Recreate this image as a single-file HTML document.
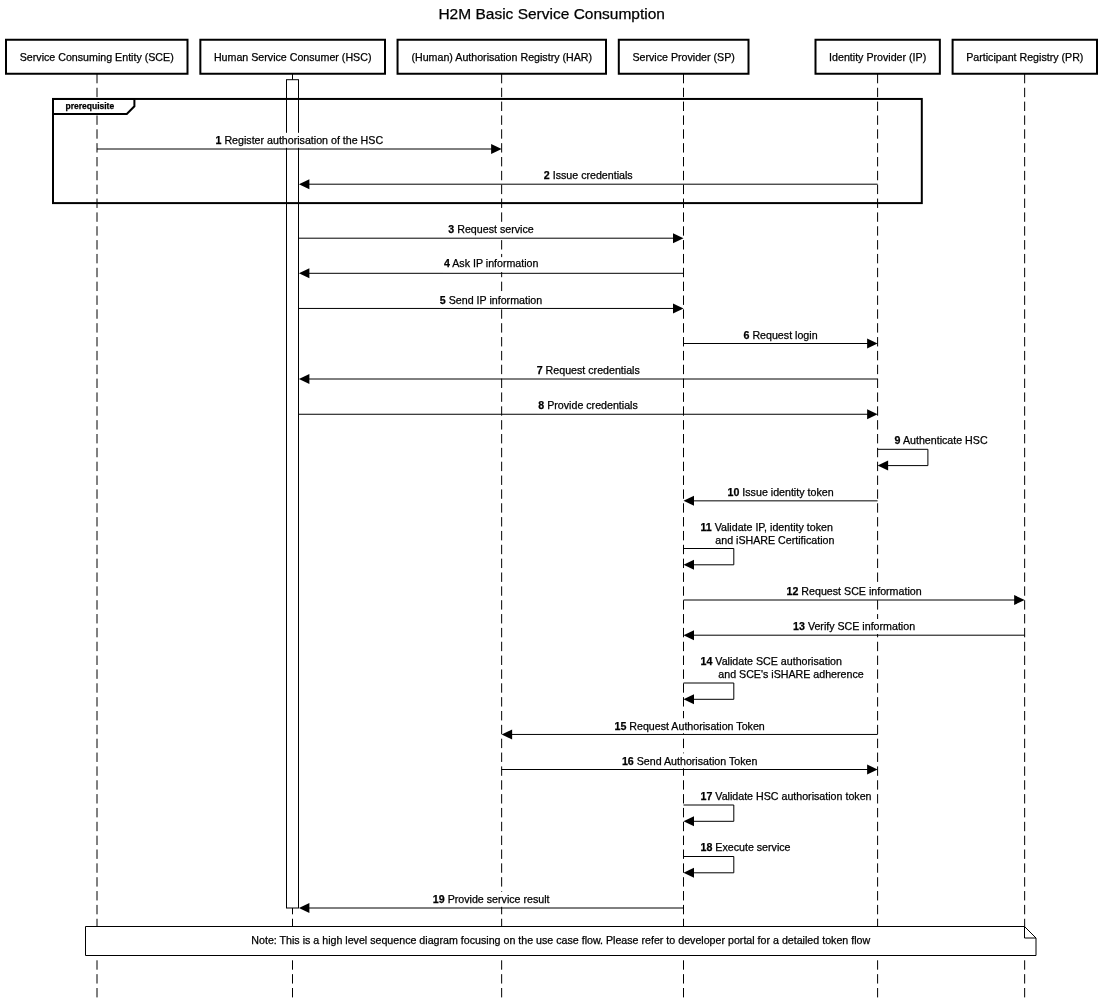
<!DOCTYPE html>
<html><head><meta charset="utf-8"><title>H2M Basic Service Consumption</title>
<style>html,body{margin:0;padding:0;background:#fff}svg{display:block;will-change:transform}text{font-family:"Liberation Sans",sans-serif;fill:#000;stroke:#000;stroke-width:0.25px}.b{font-weight:bold}</style>
</head><body>
<svg width="1103" height="999" viewBox="0 0 1103 999">
<rect x="0" y="0" width="1103" height="999" fill="#fff"></rect>
<text x="551.7" y="19.1" font-size="15.5" text-anchor="middle">H2M Basic Service Consumption</text>
<line x1="97.0" y1="73.9" x2="97.0" y2="1004" stroke="#000" stroke-width="1" stroke-dasharray="9.4 4.45"></line>
<line x1="292.5" y1="73.9" x2="292.5" y2="1004" stroke="#000" stroke-width="1" stroke-dasharray="9.4 4.45"></line>
<line x1="501.65" y1="73.9" x2="501.65" y2="1004" stroke="#000" stroke-width="1" stroke-dasharray="9.4 4.45"></line>
<line x1="683.5" y1="73.9" x2="683.5" y2="1004" stroke="#000" stroke-width="1" stroke-dasharray="9.4 4.45"></line>
<line x1="877.6" y1="73.9" x2="877.6" y2="1004" stroke="#000" stroke-width="1" stroke-dasharray="9.4 4.45"></line>
<line x1="1024.65" y1="73.9" x2="1024.65" y2="1004" stroke="#000" stroke-width="1" stroke-dasharray="9.4 4.45"></line>
<rect x="6.0" y="39.75" width="181.50" height="34.0" fill="#fff" stroke="#000" stroke-width="2"></rect>
<text x="96.75" y="60.6" font-size="10.67" text-anchor="middle">Service Consuming Entity (SCE)</text>
<rect x="200.35" y="39.75" width="184.65" height="34.0" fill="#fff" stroke="#000" stroke-width="2"></rect>
<text x="292.68" y="60.6" font-size="10.67" text-anchor="middle">Human Service Consumer (HSC)</text>
<rect x="397.55" y="39.75" width="208.45" height="34.0" fill="#fff" stroke="#000" stroke-width="2"></rect>
<text x="501.77" y="60.6" font-size="10.67" text-anchor="middle">(Human) Authorisation Registry (HAR)</text>
<rect x="618.8" y="39.75" width="129.70" height="34.0" fill="#fff" stroke="#000" stroke-width="2"></rect>
<text x="683.65" y="60.6" font-size="10.67" text-anchor="middle">Service Provider (SP)</text>
<rect x="815.5" y="39.75" width="124.35" height="34.0" fill="#fff" stroke="#000" stroke-width="2"></rect>
<text x="877.67" y="60.6" font-size="10.67" text-anchor="middle">Identity Provider (IP)</text>
<rect x="952.6" y="39.75" width="144.40" height="34.0" fill="#fff" stroke="#000" stroke-width="2"></rect>
<text x="1024.80" y="60.6" font-size="10.67" text-anchor="middle">Participant Registry (PR)</text>
<line x1="292.5" y1="73.75" x2="292.5" y2="79.7" stroke="#000" stroke-width="1"></line>
<rect x="286.5" y="79.7" width="12.0" height="828.30" fill="#fff" stroke="#000" stroke-width="1"></rect>
<rect x="53.0" y="98.95" width="868.80" height="104.15" fill="none" stroke="#000" stroke-width="2"></rect>
<path d="M53.0 98.95 H134.4 V106.3 L126.8 113.9 H53.0 Z" fill="#fff" stroke="#000" stroke-width="2" stroke-linejoin="miter"></path>
<text class="b" x="65.5" y="109" font-size="8.5">prerequisite</text>
<line x1="97.0" y1="149.0" x2="496.65" y2="149.0" stroke="#000" stroke-width="1"></line>
<path d="M501.65 149.0 L491.15 144.0 L491.15 154.0 Z" fill="#000"></path>
<g><rect x="214.50" y="132.80" width="169.94" height="15" fill="#fff"></rect><text x="299.32" y="144" font-size="10.67" text-anchor="middle" xml:space="preserve"><tspan class="b">1</tspan> Register authorisation of the HSC</text></g>
<line x1="877.6" y1="184.2" x2="303.90" y2="184.2" stroke="#000" stroke-width="1"></line>
<path d="M298.9 184.2 L309.40 179.2 L309.40 189.2 Z" fill="#000"></path>
<g><rect x="542.81" y="168.00" width="90.88" height="15" fill="#fff"></rect><text x="588.25" y="179" font-size="10.67" text-anchor="middle" xml:space="preserve"><tspan class="b">2</tspan> Issue credentials</text></g>
<line x1="298.5" y1="238.2" x2="678.50" y2="238.2" stroke="#000" stroke-width="1"></line>
<path d="M683.5 238.2 L673.00 233.2 L673.00 243.2 Z" fill="#000"></path>
<g><rect x="447.34" y="222.00" width="87.38" height="15" fill="#fff"></rect><text x="491.00" y="233" font-size="10.67" text-anchor="middle" xml:space="preserve"><tspan class="b">3</tspan> Request service</text></g>
<line x1="683.5" y1="273.3" x2="303.90" y2="273.3" stroke="#000" stroke-width="1"></line>
<path d="M298.9 273.3 L309.40 268.3 L309.40 278.3 Z" fill="#000"></path>
<g><rect x="442.90" y="257.10" width="96.66" height="15" fill="#fff"></rect><text x="491.20" y="267" font-size="10.67" text-anchor="middle" xml:space="preserve"><tspan class="b">4</tspan> Ask IP information</text></g>
<line x1="298.5" y1="308.45" x2="678.50" y2="308.45" stroke="#000" stroke-width="1"></line>
<path d="M683.5 308.45 L673.00 303.45 L673.00 313.45 Z" fill="#000"></path>
<g><rect x="438.85" y="292.25" width="104.37" height="15" fill="#fff"></rect><text x="491.00" y="304" font-size="10.67" text-anchor="middle" xml:space="preserve"><tspan class="b">5</tspan> Send IP information</text></g>
<line x1="683.5" y1="343.5" x2="872.60" y2="343.5" stroke="#000" stroke-width="1"></line>
<path d="M877.6 343.5 L867.10 338.5 L867.10 348.5 Z" fill="#000"></path>
<g><rect x="742.51" y="327.30" width="76.14" height="15" fill="#fff"></rect><text x="780.55" y="339" font-size="10.67" text-anchor="middle" xml:space="preserve"><tspan class="b">6</tspan> Request login</text></g>
<line x1="877.6" y1="379.0" x2="303.90" y2="379.0" stroke="#000" stroke-width="1"></line>
<path d="M298.9 379.0 L309.40 374.0 L309.40 384.0 Z" fill="#000"></path>
<g><rect x="535.70" y="362.80" width="105.09" height="15" fill="#fff"></rect><text x="588.25" y="374" font-size="10.67" text-anchor="middle" xml:space="preserve"><tspan class="b">7</tspan> Request credentials</text></g>
<line x1="298.5" y1="414.25" x2="872.60" y2="414.25" stroke="#000" stroke-width="1"></line>
<path d="M877.6 414.25 L867.10 409.25 L867.10 419.25 Z" fill="#000"></path>
<g><rect x="537.28" y="398.05" width="101.53" height="15" fill="#fff"></rect><text x="588.05" y="409" font-size="10.67" text-anchor="middle" xml:space="preserve"><tspan class="b">8</tspan> Provide credentials</text></g>
<path d="M877.6 449.3 H927.90 V465.60 H882.6" fill="none" stroke="#000" stroke-width="1"></path>
<path d="M877.6 465.6 L888.10 460.6 L888.10 470.6 Z" fill="#000"></path>
<text x="894.60" y="444" font-size="10.67" xml:space="preserve"><tspan class="b">9</tspan> Authenticate HSC</text>
<line x1="877.6" y1="500.85" x2="688.50" y2="500.85" stroke="#000" stroke-width="1"></line>
<path d="M683.5 500.85 L694.00 495.85 L694.00 505.85 Z" fill="#000"></path>
<g><rect x="726.53" y="484.65" width="108.12" height="15" fill="#fff"></rect><text x="780.55" y="496" font-size="10.67" text-anchor="middle" xml:space="preserve"><tspan class="b">10</tspan> Issue identity token</text></g>
<path d="M683.5 548.5 H733.80 V564.80 H688.5" fill="none" stroke="#000" stroke-width="1"></path>
<path d="M683.5 564.8 L694.00 559.8 L694.00 569.8 Z" fill="#000"></path>
<text x="700.50" y="531" font-size="10.67" xml:space="preserve"><tspan class="b">11</tspan> Validate IP, identity token</text>
<text x="715.34" y="544" font-size="10.67" xml:space="preserve">and iSHARE Certification</text>
<line x1="683.5" y1="600.0" x2="1019.65" y2="600.0" stroke="#000" stroke-width="1"></line>
<path d="M1024.65 600.0 L1014.15 595.0 L1014.15 605.0 Z" fill="#000"></path>
<g><rect x="785.55" y="583.80" width="137.13" height="15" fill="#fff"></rect><text x="854.08" y="595" font-size="10.67" text-anchor="middle" xml:space="preserve"><tspan class="b">12</tspan> Request SCE information</text></g>
<line x1="1024.65" y1="635.2" x2="688.50" y2="635.2" stroke="#000" stroke-width="1"></line>
<path d="M683.5 635.2 L694.00 630.2 L694.00 640.2 Z" fill="#000"></path>
<g><rect x="792.06" y="619.00" width="124.09" height="15" fill="#fff"></rect><text x="854.08" y="630" font-size="10.67" text-anchor="middle" xml:space="preserve"><tspan class="b">13</tspan> Verify SCE information</text></g>
<path d="M683.5 683.0 H733.80 V699.30 H688.5" fill="none" stroke="#000" stroke-width="1"></path>
<path d="M683.5 699.3 L694.00 694.3 L694.00 704.3 Z" fill="#000"></path>
<text x="700.50" y="665" font-size="10.67" xml:space="preserve"><tspan class="b">14</tspan> Validate SCE authorisation</text>
<text x="718.30" y="678" font-size="10.67" xml:space="preserve">and SCE's iSHARE adherence</text>
<line x1="877.6" y1="734.45" x2="506.65" y2="734.45" stroke="#000" stroke-width="1"></line>
<path d="M501.65 734.45 L512.15 729.45 L512.15 739.45 Z" fill="#000"></path>
<g><rect x="613.47" y="718.25" width="152.36" height="15" fill="#fff"></rect><text x="689.62" y="730" font-size="10.67" text-anchor="middle" xml:space="preserve"><tspan class="b">15</tspan> Request Authorisation Token</text></g>
<line x1="501.65" y1="769.5" x2="872.60" y2="769.5" stroke="#000" stroke-width="1"></line>
<path d="M877.6 769.5 L867.10 764.5 L867.10 774.5 Z" fill="#000"></path>
<g><rect x="620.88" y="753.30" width="137.55" height="15" fill="#fff"></rect><text x="689.62" y="765" font-size="10.67" text-anchor="middle" xml:space="preserve"><tspan class="b">16</tspan> Send Authorisation Token</text></g>
<path d="M683.5 805.0 H733.80 V821.30 H688.5" fill="none" stroke="#000" stroke-width="1"></path>
<path d="M683.5 821.3 L694.00 816.3 L694.00 826.3 Z" fill="#000"></path>
<text x="700.50" y="800" font-size="10.67" xml:space="preserve"><tspan class="b">17</tspan> Validate HSC authorisation token</text>
<path d="M683.5 856.5 H733.80 V872.80 H688.5" fill="none" stroke="#000" stroke-width="1"></path>
<path d="M683.5 872.8 L694.00 867.8 L694.00 877.8 Z" fill="#000"></path>
<text x="700.50" y="851" font-size="10.67" xml:space="preserve"><tspan class="b">18</tspan> Execute service</text>
<line x1="683.5" y1="908.0" x2="303.90" y2="908.0" stroke="#000" stroke-width="1"></line>
<path d="M298.9 908.0 L309.40 903.0 L309.40 913.0 Z" fill="#000"></path>
<g><rect x="431.86" y="891.80" width="118.72" height="15" fill="#fff"></rect><text x="491.20" y="903" font-size="10.67" text-anchor="middle" xml:space="preserve"><tspan class="b">19</tspan> Provide service result</text></g>
<path d="M85.5 926.5 H1024.50 L1036.0 938.00 V955.5 H85.5 Z" fill="#fff" stroke="#000" stroke-width="1"></path>
<path d="M1024.50 926.5 V938.00 H1036.0" fill="none" stroke="#000" stroke-width="1"></path>
<text x="560.75" y="944.0" font-size="10.67" text-anchor="middle">Note: This is a high level sequence diagram focusing on the use case flow. Please refer to developer portal for a detailed token flow</text>
</svg>
</body></html>
